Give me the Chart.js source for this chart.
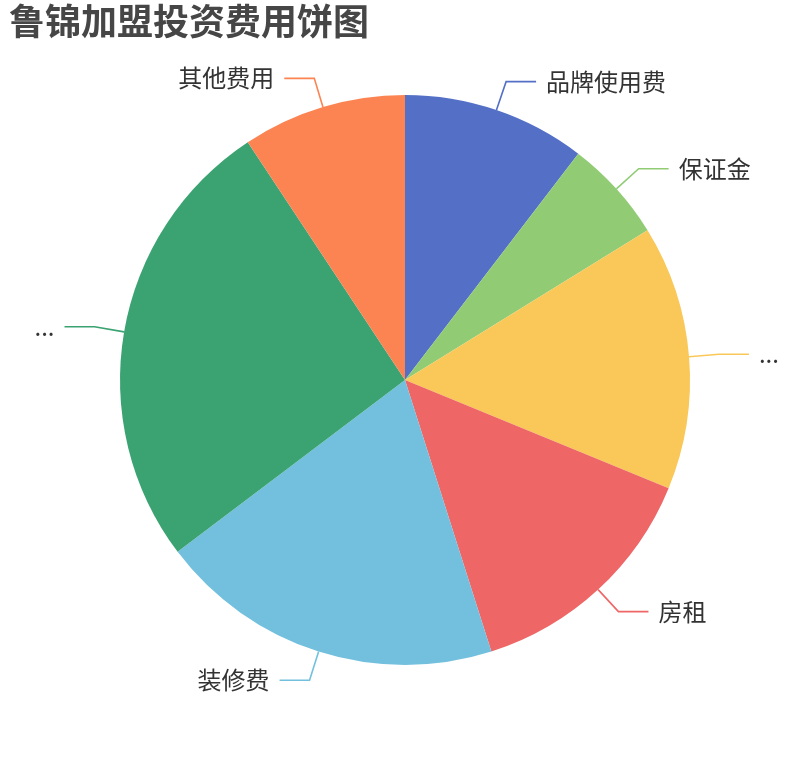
<!DOCTYPE html>
<html>
<head>
<meta charset="utf-8">
<script src="https://cdn.jsdelivr.net/npm/chart.js@4.4.1/dist/chart.umd.min.js"></script>
<style>
  html, body { margin: 0; padding: 0; background: #ffffff; }
  #wrap { width: 810px; height: 760px; position: relative; }
</style>
</head>
<body>
<div id="wrap"><canvas id="c" width="810" height="760"></canvas></div>
<script>
const titleText = '鲁锦加盟投资费用饼图';
const categories = ['品牌使用费', '保证金', '...', '房租', '装修费', '...', '其他费用'];
const values = [10.4, 5.8, 15.0, 13.9, 19.6, 26.0, 9.3];
const colors = ['#5470c6', '#91cc75', '#fac858', '#ee6666', '#73c0de', '#3ba272', '#fc8452'];

const leaderPlugin = {
  id: 'leaderLabels',
  afterDatasetsDraw(chart) {
    const ctx = chart.ctx;
    const meta = chart.getDatasetMeta(0);
    ctx.save();
    meta.data.forEach((arc, i) => {
      const p = arc.getProps(['x', 'y', 'startAngle', 'endAngle', 'outerRadius'], true);
      const mid = (p.startAngle + p.endAngle) / 2;
      const cos = Math.cos(mid), sin = Math.sin(mid);
      const x0 = p.x + p.outerRadius * cos, y0 = p.y + p.outerRadius * sin;
      const x1 = p.x + (p.outerRadius + 30) * cos, y1 = p.y + (p.outerRadius + 30) * sin;
      const right = cos >= 0;
      const x2 = x1 + (right ? 30 : -30);
      ctx.strokeStyle = colors[i];
      ctx.lineWidth = 1.6;
      ctx.beginPath();
      ctx.moveTo(x0, y0);
      ctx.lineTo(x1, y1);
      ctx.lineTo(x2, y1);
      ctx.stroke();
      ctx.fillStyle = '#333333';
      ctx.font = '24px "Noto Sans CJK SC", "Noto Sans", sans-serif';
      ctx.textBaseline = 'middle';
      ctx.textAlign = right ? 'left' : 'right';
      ctx.fillText(chart.data.labels[i], x2 + (right ? 10 : -10), y1);
    });
    ctx.restore();
  },
  afterDraw(chart) {
    const ctx = chart.ctx;
    ctx.save();
    ctx.fillStyle = '#464646';
    ctx.font = 'bold 36px "Noto Sans CJK SC", sans-serif';
    ctx.textBaseline = 'top';
    ctx.textAlign = 'left';
    ctx.fillText(titleText, 9, 3);
    ctx.restore();
  }
};

new Chart(document.getElementById('c'), {
  type: 'pie',
  data: {
    labels: categories,
    datasets: [{
      data: values,
      backgroundColor: colors,
      borderWidth: 0,
      hoverOffset: 0
    }]
  },
  options: {
    responsive: false,
    animation: false,
    devicePixelRatio: 1,
    layout: { padding: { left: 120, right: 120, top: 95, bottom: 95 } },
    plugins: {
      legend: { display: false },
      title: { display: false },
      tooltip: { enabled: false }
    },
    events: []
  },
  plugins: [leaderPlugin]
});
</script>
</body>
</html>
